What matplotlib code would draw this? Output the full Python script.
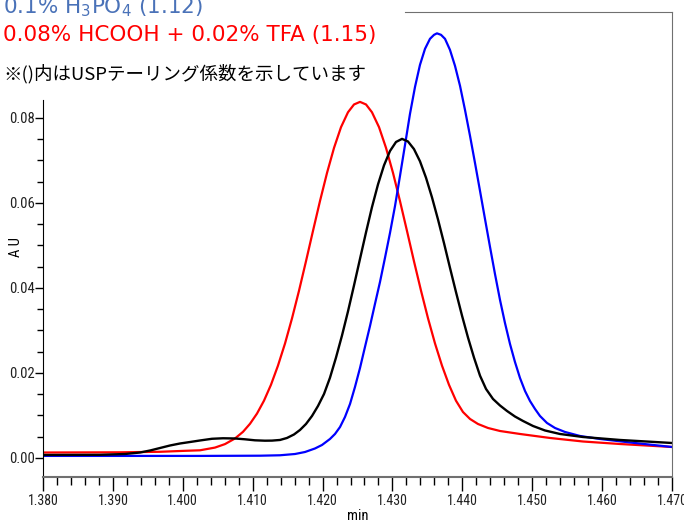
import matplotlib
matplotlib.use("Agg")
import matplotlib.pyplot as plt
from matplotlib.ticker import MultipleLocator, FormatStrFormatter
from matplotlib import font_manager

# データ (min, AU) - 図から読み取り
red_t = [1.38000, 1.39102, 1.39674, 1.40032, 1.40246, 1.40461, 1.40604, 1.40747,
         1.40862, 1.40962, 1.41062, 1.41162, 1.41262, 1.41362, 1.41463, 1.41563,
         1.41663, 1.41763, 1.41863, 1.41963, 1.42064, 1.42164, 1.42264, 1.42364,
         1.42450, 1.42536, 1.42622, 1.42707, 1.42808, 1.42908, 1.43008, 1.43108,
         1.43208, 1.43308, 1.43409, 1.43509, 1.43609, 1.43709, 1.43809, 1.43909,
         1.44009, 1.44110, 1.44224, 1.44367, 1.44539, 1.44825, 1.45254, 1.45726,
         1.46256, 1.47000]
red_v = [0.00129, 0.00134, 0.00146, 0.00169, 0.00181, 0.00245, 0.00327, 0.00459,
         0.00616, 0.00805, 0.01045, 0.01348, 0.01722, 0.02172, 0.02694, 0.03285,
         0.03934, 0.04628, 0.05341, 0.06042, 0.06706, 0.07294, 0.07781, 0.08132,
         0.08315, 0.08376, 0.08315, 0.08132, 0.07781, 0.07294, 0.06706, 0.06042,
         0.05341, 0.04628, 0.03934, 0.03285, 0.02694, 0.02172, 0.01722, 0.01348,
         0.01082, 0.00918, 0.00800, 0.00706, 0.00635, 0.00565, 0.00471, 0.00388,
         0.00329, 0.00259]

blue_t = [1.38000, 1.40246, 1.41105, 1.41391, 1.41606, 1.41749, 1.41892, 1.41992,
          1.42106, 1.42178, 1.42250, 1.42321, 1.42393, 1.42464, 1.42536, 1.42607,
          1.42679, 1.42750, 1.42822, 1.42893, 1.42965, 1.43037, 1.43108, 1.43180,
          1.43251, 1.43323, 1.43394, 1.43466, 1.43537, 1.43595, 1.43637, 1.43695,
          1.43752, 1.43823, 1.43895, 1.43967, 1.44038, 1.44110, 1.44181, 1.44253,
          1.44324, 1.44396, 1.44467, 1.44539, 1.44610, 1.44682, 1.44753, 1.44825,
          1.44897, 1.44968, 1.45040, 1.45111, 1.45211, 1.45326, 1.45469, 1.45684,
          1.45970, 1.46399, 1.47000]
blue_v = [0.00049, 0.00049, 0.00054, 0.00064, 0.00094, 0.00141, 0.00224, 0.00306,
          0.00447, 0.00565, 0.00729, 0.00965, 0.01271, 0.01671, 0.02118, 0.02612,
          0.03106, 0.03624, 0.04141, 0.04706, 0.05294, 0.05929, 0.06635, 0.07365,
          0.08094, 0.08729, 0.09247, 0.09624, 0.09859, 0.09953, 0.09988, 0.09953,
          0.09859, 0.09600, 0.09224, 0.08753, 0.08188, 0.07576, 0.06941, 0.06282,
          0.05624, 0.04965, 0.04329, 0.03718, 0.03176, 0.02682, 0.02259, 0.01882,
          0.01576, 0.01341, 0.01153, 0.00988, 0.00824, 0.00706, 0.00612, 0.00518,
          0.00447, 0.00365, 0.00259]

black_t = [1.38000, 1.38816, 1.39173, 1.39388, 1.39531, 1.39674, 1.39817, 1.39960,
           1.40103, 1.40246, 1.40418, 1.40575, 1.40747, 1.40890, 1.41033, 1.41176,
           1.41277, 1.41391, 1.41491, 1.41591, 1.41677, 1.41763, 1.41849, 1.41935,
           1.42021, 1.42106, 1.42192, 1.42278, 1.42364, 1.42450, 1.42536, 1.42622,
           1.42707, 1.42793, 1.42879, 1.42965, 1.43051, 1.43137, 1.43222, 1.43308,
           1.43394, 1.43480, 1.43566, 1.43652, 1.43738, 1.43823, 1.43909, 1.43995,
           1.44081, 1.44167, 1.44253, 1.44339, 1.44439, 1.44539, 1.44639, 1.44753,
           1.44868, 1.45011, 1.45183, 1.45397, 1.45726, 1.46256, 1.47000]
black_v = [0.00071, 0.00075, 0.00094, 0.00129, 0.00176, 0.00235, 0.00294, 0.00341,
           0.00376, 0.00412, 0.00452, 0.00464, 0.00459, 0.00440, 0.00416, 0.00407,
           0.00409, 0.00424, 0.00471, 0.00553, 0.00659, 0.00800, 0.00988, 0.01224,
           0.01506, 0.01887, 0.02360, 0.02880, 0.03449, 0.04059, 0.04685, 0.05308,
           0.05899, 0.06433, 0.06882, 0.07221, 0.07433, 0.07506, 0.07445, 0.07266,
           0.06979, 0.06593, 0.06129, 0.05609, 0.05052, 0.04475, 0.03904, 0.03351,
           0.02833, 0.02360, 0.01936, 0.01624, 0.01388, 0.01235, 0.01106, 0.00976,
           0.00871, 0.00753, 0.00647, 0.00565, 0.00494, 0.00424, 0.00353]

labels = ["0.1% H$_3$PO$_4$ (1.12)", "0.08% HCOOH + 0.02% TFA (1.15)",
          "※()内はUSPテーリング係数を示しています"]
label_colors = ["#4A72B8", "#FF0000", "black"]

# 目盛り用の細いフォントを探す
fonts = font_manager.fontManager.ttflist
names = {f.name for f in fonts}
tick_family, tick_stretch, tick_size = "Liberation Sans", "normal", 9
for cand in ["Liberation Sans Narrow", "Roboto Condensed", "Noto Sans Condensed",
             "Open Sans Condensed", "DejaVu Sans Condensed"]:
    if cand in names:
        tick_family, tick_size = cand, 10.5
        break
else:
    for f in fonts:
        if f.name in ("DejaVu Sans", "Noto Sans", "Roboto") and "condensed" in str(f.stretch):
            tick_family, tick_stretch, tick_size = f.name, "condensed", 10.5
            break
tick_kw = dict(family=tick_family, stretch=tick_stretch, size=tick_size)

W, H = 684, 524
fig = plt.figure(figsize=(W / 100, H / 100), dpi=100)
ax = fig.add_axes([43 / W, 1 - 477 / H, (672 - 43) / W, (477 - 12) / H])

ax.plot(red_t, red_v, color="#FF0000", lw=1.6)
ax.plot(blue_t, blue_v, color="#0000FF", lw=1.6)
ax.plot(black_t, black_v, color="black", lw=1.7)

ax.set_xlim(1.380, 1.470)
ax.set_ylim(-0.00447, 0.1049)

ax.xaxis.set_major_locator(MultipleLocator(0.01))
ax.xaxis.set_minor_locator(MultipleLocator(0.002))
ax.xaxis.set_major_formatter(FormatStrFormatter("%.3f"))
ax.set_yticks([0.0, 0.02, 0.04, 0.06, 0.08])
ax.set_yticks([0.005, 0.01, 0.015, 0.025, 0.03, 0.035, 0.045, 0.05, 0.055,
               0.065, 0.07, 0.075], minor=True)
ax.yaxis.set_major_formatter(FormatStrFormatter("%.2f"))

ax.tick_params(axis="x", which="major", direction="out", length=10, width=1, pad=2,
               color="black")
ax.tick_params(axis="x", which="minor", direction="out", length=6, width=1, color="black")
ax.tick_params(axis="y", which="major", direction="out", length=6, width=1, pad=0)
ax.tick_params(axis="y", which="minor", direction="out", length=4, width=1)
for lab in ax.get_xticklabels() + ax.get_yticklabels():
    lab.set_fontfamily(tick_kw["family"])
    lab.set_fontstretch(tick_kw["stretch"])
    lab.set_fontsize(tick_kw["size"])
    lab.set_color("#202020")
for lab in ax.get_xticklabels():
    lab.set_fontsize(tick_kw["size"] - 0.5)

for s in ["top", "right", "bottom"]:
    ax.spines[s].set_color("#707070")
ax.spines["bottom"].set_linewidth(1.5)
ax.spines["left"].set_color("black")
ax.spines["left"].set_bounds(-0.00447, 0.0842)
ax.spines["top"].set_bounds(1.4318, 1.470)

ax.set_xlabel("min", labelpad=1, **tick_kw)
ax.set_ylabel("A U", **tick_kw)
ax.yaxis.set_label_coords(-0.032, 0.495)

fig.text(3 / W, 1 - 13.5 / H, labels[0], color=label_colors[0], fontsize=15.5,
         va="baseline", family=["DejaVu Sans"])
fig.text(3 / W, 1 - 40.5 / H, labels[1], color=label_colors[1], fontsize=15.5,
         va="baseline", family=["DejaVu Sans"])
fig.text(3 / W, 1 - 79.5 / H, labels[2], color=label_colors[2], fontsize=13.3,
         va="baseline", family=["Noto Sans CJK JP", "DejaVu Sans"])

fig.savefig("out.png", dpi=100)
